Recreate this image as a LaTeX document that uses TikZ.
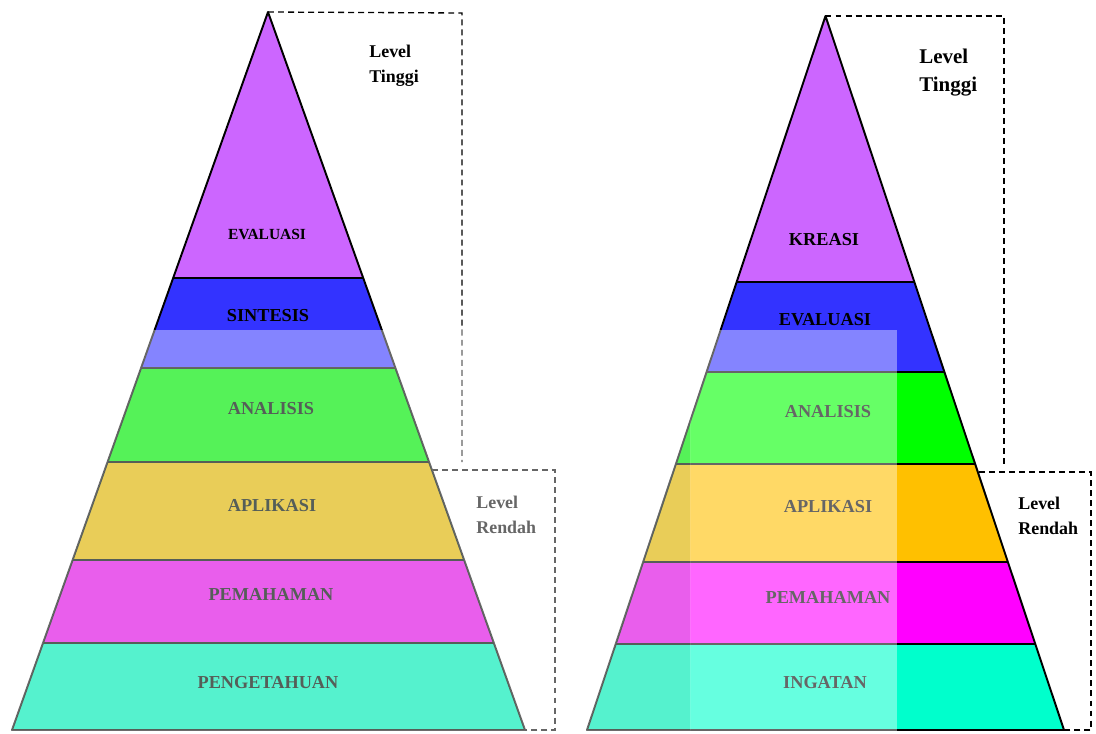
\documentclass[tikz,border=0pt]{standalone}
\usepackage{fontspec}
\setmainfont{Liberation Serif}
\definecolor{ungu}{HTML}{CC66FF}
\definecolor{biru}{HTML}{3333FF}
\definecolor{hijau}{HTML}{00FF00}
\definecolor{oranye}{HTML}{FFC000}
\definecolor{magenta}{HTML}{FF00FF}
\definecolor{tosca}{HTML}{00FFCC}
\definecolor{haze}{HTML}{CCE1D2}

\begin{document}
\begin{tikzpicture}[x=0.02cm,y=-0.02cm,
  tingkat/.style={inner sep=0pt,font=\fontsize{10.4}{12}\selectfont\bfseries},
  level/.style={inner sep=0pt,anchor=north west,align=left,font=\fontsize{10.2}{14.2}\selectfont\bfseries},
  batas/.style={line width=0.75pt,dash pattern=on 3.4pt off 2.3pt},
  garis/.style={line width=1.1pt,line join=round}]
  \useasboundingbox (0,0) rectangle (1096,734);
  % piramida kiri
  \coordinate (La) at (268,12);
  \coordinate (Lk) at (525,730);
  \coordinate (Li) at (12,730);
  \begin{scope}
    \clip (La) -- (Lk) -- (Li) -- cycle;
    \foreach \ya/\yb/\warna in {12/278/ungu,278/368/biru,368/462/hijau,462/560/oranye,560/643/magenta,643/731/tosca}
      \fill[\warna] (0,\ya) rectangle (560,\yb);
    \foreach \y in {278,368,462,560,643}
      \draw[garis] (0,\y) -- (560,\y);
  \end{scope}
  \draw[garis] (La) -- (Lk) -- (Li) -- cycle;
  \draw[batas] (La) -- (462,13) -- (462,462);
  \draw[batas] (432,470) -- (555,470) -- (555,730) -- (Lk);
  \node[tingkat,font=\fontsize{8.8}{10}\selectfont\bfseries] (Lev) at (267,234) {EVALUASI};
  \node[tingkat] (Lsin) at (268,316) {SINTESIS};
  \node[tingkat] (Lana) at (271,409) {ANALISIS};
  \node[tingkat] (Lapl) at (272,506) {APLIKASI};
  \node[tingkat] (Lpem) at (271,594) {PEMAHAMAN};
  \node[tingkat] (Lpen) at (268,683) {PENGETAHUAN};
  \node[level] (Ltinggi) at (369,45) {Level\\Tinggi};
  \node[level] (Lrendah) at (476,496) {Level\\Rendah};
  % piramida kanan
  \coordinate (Ra) at (825.5,16);
  \coordinate (Rk) at (1064,730);
  \coordinate (Ri) at (587,730);
  \begin{scope}
    \clip (Ra) -- (Rk) -- (Ri) -- cycle;
    \foreach \ya/\yb/\warna in {16/282/ungu,282/372/biru,372/464/hijau,464/562/oranye,562/644/magenta,644/731/tosca}
      \fill[\warna] (570,\ya) rectangle (1080,\yb);
    \foreach \y in {282,372,464,562,644}
      \draw[garis] (570,\y) -- (1080,\y);
  \end{scope}
  \draw[garis] (Ra) -- (Rk) -- (Ri) -- cycle;
  \draw[batas] (Ra) -- (1004,16) -- (1004,466);
  \draw[batas] (979,472) -- (1091,472) -- (1091,730) -- (Rk);
  \node[tingkat] (Rkre) at (824,240) {KREASI};
  \node[tingkat] (Rev) at (825,320) {EVALUASI};
  \node[tingkat] (Rana) at (828,412) {ANALISIS};
  \node[tingkat] (Rapl) at (828,507) {APLIKASI};
  \node[tingkat] (Rpem) at (828,597) {PEMAHAMAN};
  \node[tingkat] (Ring) at (825,683) {INGATAN};
  \node[level,font=\fontsize{11.9}{15.9}\selectfont\bfseries] (Rtinggi) at (919,49) {Level\\Tinggi};
  \node[level] (Rrendah) at (1018,497) {Level\\Rendah};
  % lapisan pudar
  \fill[white,fill opacity=0.4] (0,330) rectangle (897,368);
  \fill[white,fill opacity=0.4] (690,368) rectangle (897,734);
  \begin{scope}
    \clip (0,368) rectangle (690,734);
    \fill[haze,fill opacity=0.42] (La) -- (Lk) -- (Li) -- cycle (Ra) -- (Rk) -- (Ri) -- cycle;
    \fill[white,fill opacity=0.4,even odd rule] (0,368) rectangle (690,734)
      (La) -- (Lk) -- (Li) -- cycle (Ra) -- (Rk) -- (Ri) -- cycle;
  \end{scope}
\end{tikzpicture}
\end{document}
